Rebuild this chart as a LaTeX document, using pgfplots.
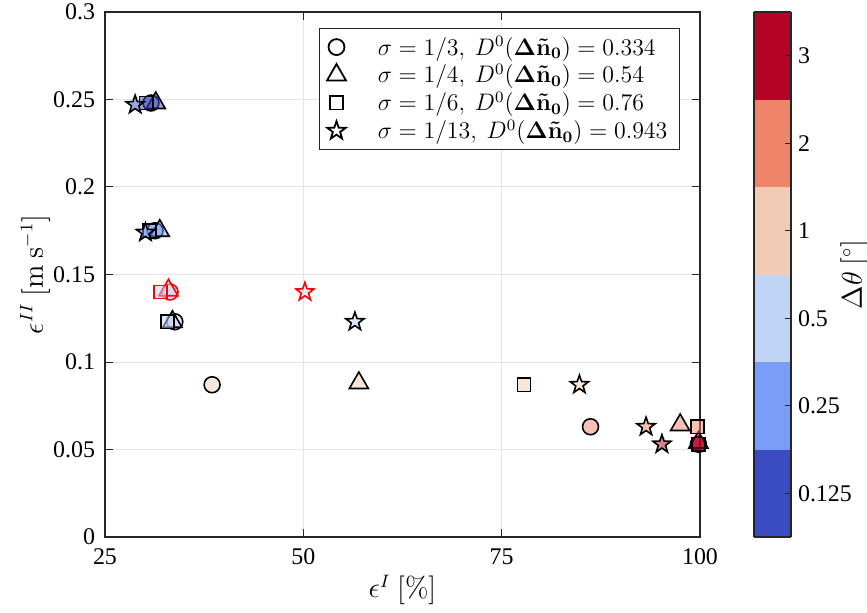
\documentclass[border=0pt]{standalone}
\usepackage[no-math]{fontspec}
\setmainfont{Liberation Serif}
\usepackage{pgfplots}
\usepackage{pgfplotstable}
\pgfplotsset{compat=1.18}

\pgfdeclareplotmark{pstar}{%
  \pgfpathmoveto{\pgfpointpolar{90}{\pgfplotmarksize}}%
  \pgfpathlineto{\pgfpointpolar{126}{0.40\pgfplotmarksize}}%
  \pgfpathlineto{\pgfpointpolar{162}{\pgfplotmarksize}}%
  \pgfpathlineto{\pgfpointpolar{198}{0.40\pgfplotmarksize}}%
  \pgfpathlineto{\pgfpointpolar{234}{\pgfplotmarksize}}%
  \pgfpathlineto{\pgfpointpolar{270}{0.40\pgfplotmarksize}}%
  \pgfpathlineto{\pgfpointpolar{306}{\pgfplotmarksize}}%
  \pgfpathlineto{\pgfpointpolar{342}{0.40\pgfplotmarksize}}%
  \pgfpathlineto{\pgfpointpolar{18}{\pgfplotmarksize}}%
  \pgfpathlineto{\pgfpointpolar{54}{0.40\pgfplotmarksize}}%
  \pgfpathclose
  \pgfusepathqfillstroke
}
\tikzset{pmk/.style={fill opacity=0.5, line width=0.8pt}}
\definecolor{axgray}{HTML}{262626}
\pgfplotsset{
  wlegend/.style={legend image code/.code={%
    \draw[mark repeat=2,mark phase=2,##1] plot coordinates {(0cm,0cm)(0.34cm,0cm)(0.68cm,0cm)};
    \path[draw=none,fill=none] (0.68cm,0cm) -- (1.0cm,0cm);}},
}

% c = colour bin + 0.5 (bins: 0.125, 0.25, 0.5, 1, 2, 3)
\pgfplotstableread{
x y c
30.8 0.248 0.5
31.3 0.175 1.5
33.8 0.123 2.5
38.5 0.087 3.5
86.2 0.063 4.5
99.8 0.053 5.5
}\circdata
\pgfplotstableread{
x y c
33.2 0.140 2.5
}\circred
\pgfplotstableread{
x y c
31.4 0.248 0.5
31.9 0.175 1.5
33.5 0.123 2.5
57.0 0.088 3.5
97.5 0.064 4.5
99.8 0.054 5.5
}\tridata
\pgfplotstableread{
x y c
33.0 0.141 2.5
}\trired
\pgfplotstableread{
x y c
30.2 0.248 0.5
30.6 0.175 1.5
32.9 0.123 2.5
77.8 0.087 3.5
99.7 0.063 4.5
99.8 0.053 5.5
}\sqdata
\pgfplotstableread{
x y c
32.0 0.140 2.5
}\sqred
\pgfplotstableread{
x y c
28.8 0.247 0.5
30.1 0.174 1.5
56.5 0.123 2.5
84.8 0.087 3.5
93.2 0.063 4.5
95.2 0.053 5.5
}\stardata
\pgfplotstableread{
x y c
50.2 0.140 2.5
}\starred

\begin{document}
\begin{tikzpicture}
\begin{axis}[
  name=main,
  scale only axis,
  width=297.5bp, height=262.5bp,
  xmin=25, xmax=100, ymin=0, ymax=0.3,
  xtick={25,50,75,100},
  ytick={0,0.05,0.1,0.15,0.2,0.25,0.3},
  yticklabel style={/pgf/number format/fixed, xshift=-1.5bp},
  xticklabel style={yshift=-2.5bp},
  /pgf/number format/assume math mode=true,
  ticklabel style={font=\fontsize{12}{14}\selectfont},
  tick align=inside,
  major tick length=4bp,
  tick style={axgray, line width=0.5pt},
  grid=major,
  major grid style={gray!20, line width=0.5pt},
  axis line style={axgray, line width=0.6pt},
  xlabel={$\epsilon^{I}\ [\%]$},
  ylabel={$\epsilon^{II}\ [\mathrm{m\ s^{-1}}]$},
  label style={font=\fontsize{13.5}{16}\selectfont},
  xlabel style={at={(axis description cs:0.5,-0.101)}, anchor=center},
  ylabel style={at={(axis description cs:-0.1176,0.5)}, anchor=center},
  colormap={cw}{rgb255=(59,76,192) rgb255=(122,157,248) rgb255=(192,212,245) rgb255=(242,203,183) rgb255=(238,132,104) rgb255=(180,4,38)},
  colormap access=piecewise constant,
  point meta min=0, point meta max=6,
  colorbar right,
  colorbar style={
    at={(parent axis.north east)}, anchor=north west, xshift=18.5bp,
    width=18.5bp,
    ytick={0.5,1.5,2.5,3.5,4.5,5.5},
    yticklabels={0.125,0.25,0.5,1,2,3},
    ytick pos=right,
    tick align=inside,
    major tick length=3bp,
    tick style={axgray, line width=0.5pt},
    axis line style={axgray, line width=0.6pt},
    ylabel={$\Delta\theta\ [^\circ]$},
    ylabel style={font=\fontsize{13.5}{16}\selectfont, at={(axis description cs:2.72,0.5)}, anchor=center},
    ticklabel style={font=\fontsize{12}{14}\selectfont},
  },
  legend style={at={(rel axis cs:0.966,0.97)}, anchor=north east,
    draw=axgray, font=\fontsize{11.7}{13}\selectfont, cells={anchor=west},
    row sep=-1pt, inner xsep=4pt, inner ysep=2pt},
  legend cell align=left,
]
\addlegendimage{wlegend, only marks, mark=o, mark size=4pt, black, line width=0.9pt}
\addlegendentry{$\sigma=1/3,\ D^0(\mathbf{\Delta\tilde{n}_0})=0.334$}
\addlegendimage{wlegend, only marks, mark=triangle, mark size=5.5pt, black, line width=0.9pt}
\addlegendentry{$\sigma=1/4,\ D^0(\mathbf{\Delta\tilde{n}_0})=0.54$}
\addlegendimage{wlegend, only marks, mark=square, mark size=3.3pt, black, line width=0.9pt}
\addlegendentry{$\sigma=1/6,\ D^0(\mathbf{\Delta\tilde{n}_0})=0.76$}
\addlegendimage{wlegend, only marks, mark=pstar, mark size=4.8pt, black, fill=white, line width=0.9pt}
\addlegendentry{$\sigma=1/13,\ D^0(\mathbf{\Delta\tilde{n}_0})=0.943$}

\addplot[scatter, only marks, point meta=explicit, forget plot, scatter/use mapped color={draw=black, fill=mapped color}, mark=*, mark size=4pt, mark options={pmk}] table[x=x,y=y,meta=c]{\circdata};
\addplot[scatter, only marks, point meta=explicit, forget plot, scatter/use mapped color={draw=red, fill=mapped color}, mark=*, mark size=4pt, mark options={pmk}] table[x=x,y=y,meta=c]{\circred};
\addplot[scatter, only marks, point meta=explicit, forget plot, scatter/use mapped color={draw=black, fill=mapped color}, mark=triangle*, mark size=5.5pt, mark options={pmk}] table[x=x,y=y,meta=c]{\tridata};
\addplot[scatter, only marks, point meta=explicit, forget plot, scatter/use mapped color={draw=red, fill=mapped color}, mark=triangle*, mark size=5.5pt, mark options={pmk}] table[x=x,y=y,meta=c]{\trired};
\addplot[scatter, only marks, point meta=explicit, forget plot, scatter/use mapped color={draw=black, fill=mapped color}, mark=square*, mark size=3.3pt, mark options={pmk}] table[x=x,y=y,meta=c]{\sqdata};
\addplot[scatter, only marks, point meta=explicit, forget plot, scatter/use mapped color={draw=red, fill=mapped color}, mark=square*, mark size=3.3pt, mark options={pmk}] table[x=x,y=y,meta=c]{\sqred};
\addplot[scatter, only marks, point meta=explicit, forget plot, scatter/use mapped color={draw=black, fill=mapped color}, mark=pstar, mark size=4.8pt, mark options={pmk}] table[x=x,y=y,meta=c]{\stardata};
\addplot[scatter, only marks, point meta=explicit, forget plot, scatter/use mapped color={draw=red, fill=mapped color}, mark=pstar, mark size=4.8pt, mark options={pmk}] table[x=x,y=y,meta=c]{\starred};
\end{axis}
\pgfresetboundingbox
\path ([xshift=-52.5bp,yshift=-38bp]main.south west) rectangle ([xshift=83.5bp,yshift=6bp]main.north east);
\end{tikzpicture}
\end{document}
